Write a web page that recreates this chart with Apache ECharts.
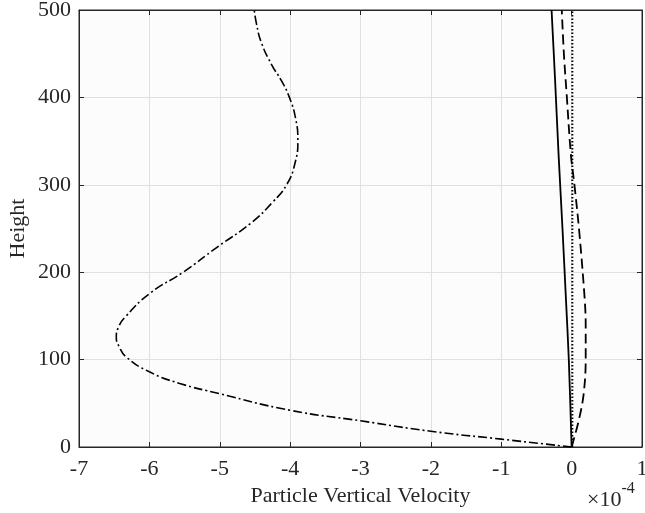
<!DOCTYPE html>
<html>
<head>
<meta charset="utf-8">
<script src="https://cdn.jsdelivr.net/npm/echarts@6/dist/echarts.min.js"></script>
<style>html,body{margin:0;padding:0;background:#fff}#c{width:645px;height:513px}</style>
</head>
<body>
<div id="c"></div>
<script>
// Values in units of 1e-4
const xTicks = [-7, -6, -5, -4, -3, -2, -1, 0, 1];
const yTicks = [0, 100, 200, 300, 400, 500];

const dashDotH = [0, 9, 18, 30, 42, 61, 73, 86, 103, 115, 125, 137, 149, 176, 200, 229, 256, 280, 300, 325, 351, 375, 400, 420, 437, 463, 485, 500];
const dashDotV = [0, -1, -2, -3, -4, -5, -5.58, -6.0, -6.33, -6.43, -6.47, -6.44, -6.34, -5.99, -5.52, -5.03, -4.56, -4.25, -4.05, -3.93, -3.89, -3.92, -4.01, -4.13, -4.26, -4.41, -4.48, -4.51];

const solidH = [0, 100, 168, 250, 334, 420, 500];
const solidV = [0, -0.04, -0.08, -0.13, -0.185, -0.235, -0.285];

const dashedH = [0, 30, 60, 100, 140, 170, 245, 300, 334, 403, 450, 500];
const dashedV = [0, 0.1, 0.17, 0.2, 0.2, 0.185, 0.11, 0.04, -0.01, -0.07, -0.11, -0.14];

const dottedH = [0, 500];
const dottedV = [0.01, 0.01];

const pairs = (v, h) => v.map((x, i) => [x, h[i]]);
const FONT = 'Liberation Serif';
const TXT = '#262626';

const chart = echarts.init(document.getElementById('c'), null, {renderer: 'canvas'});
chart.setOption({
  animation: false,
  backgroundColor: '#ffffff',
  grid: {left: 79, right: 3, top: 10, bottom: 66, containLabel: false, outerBoundsMode: 'none',
         show: true, backgroundColor: '#fcfcfc', borderColor: '#262626', borderWidth: 1},
  xAxis: [{
    type: 'value', min: -7, max: 1, interval: 1,
    name: 'Particle Vertical Velocity', nameLocation: 'middle', nameGap: 38, nameMoveOverlap: false,
    nameTextStyle: {fontFamily: FONT, fontSize: 22, color: TXT},
    axisLine: {show: true, onZero: false, lineStyle: {color: '#262626', width: 1}},
    axisTick: {show: true, inside: true, length: 5, lineStyle: {color: '#262626'}},
    axisLabel: {fontFamily: FONT, fontSize: 22, color: TXT, margin: 11, formatter: v => String(v)},
    splitLine: {show: true, lineStyle: {color: '#e0e0e0', width: 1}}
  }, {
    type: 'value', min: -7, max: 1, interval: 1, position: 'top',
    axisLine: {show: true, onZero: false, lineStyle: {color: '#262626'}},
    axisTick: {show: true, inside: true, length: 5, lineStyle: {color: '#262626'}},
    axisLabel: {show: false}, splitLine: {show: false}
  }],
  yAxis: [{
    type: 'value', min: 0, max: 500, interval: 100,
    name: 'Height', nameLocation: 'middle', nameGap: 50, nameMoveOverlap: false,
    nameTextStyle: {fontFamily: FONT, fontSize: 22, color: TXT},
    axisLine: {show: true, onZero: false, lineStyle: {color: '#262626', width: 1}},
    axisTick: {show: true, inside: true, length: 5, lineStyle: {color: '#262626'}},
    axisLabel: {fontFamily: FONT, fontSize: 22, color: TXT, margin: 8},
    splitLine: {show: true, lineStyle: {color: '#e0e0e0', width: 1}}
  }, {
    type: 'value', min: 0, max: 500, interval: 100, position: 'right',
    axisLine: {show: true, onZero: false, lineStyle: {color: '#262626'}},
    axisTick: {show: true, inside: true, length: 5, lineStyle: {color: '#262626'}},
    axisLabel: {show: false}, splitLine: {show: false}
  }],
  graphic: [{
    type: 'text', left: 587, top: 481,
    style: {
      text: '{a|×10}{b|-4}',
      rich: {
        a: {fontFamily: FONT, fontSize: 22, fill: TXT, padding: [8, 0, 0, 0]},
        b: {fontFamily: FONT, fontSize: 16, fill: TXT, verticalAlign: 'top', padding: [0, 0, 10, 0]}
      }
    }
  }],
  series: [{
    type: 'line', data: pairs(dashDotV, dashDotH), smooth: 0.5, showSymbol: false,
    lineStyle: {color: '#000', width: 1.6, type: [9, 3, 2, 3]}
  }, {
    type: 'line', data: pairs(solidV, solidH), smooth: 0.3, showSymbol: false,
    lineStyle: {color: '#000', width: 1.8, type: 'solid'}
  }, {
    type: 'line', data: pairs(dashedV, dashedH), smooth: 0.35, showSymbol: false,
    lineStyle: {color: '#000', width: 1.8, type: [10, 5]}
  }, {
    type: 'line', data: pairs(dottedV, dottedH), showSymbol: false,
    lineStyle: {color: '#000', width: 2, type: [1.5, 2]}
  }]
});
</script>
</body>
</html>
